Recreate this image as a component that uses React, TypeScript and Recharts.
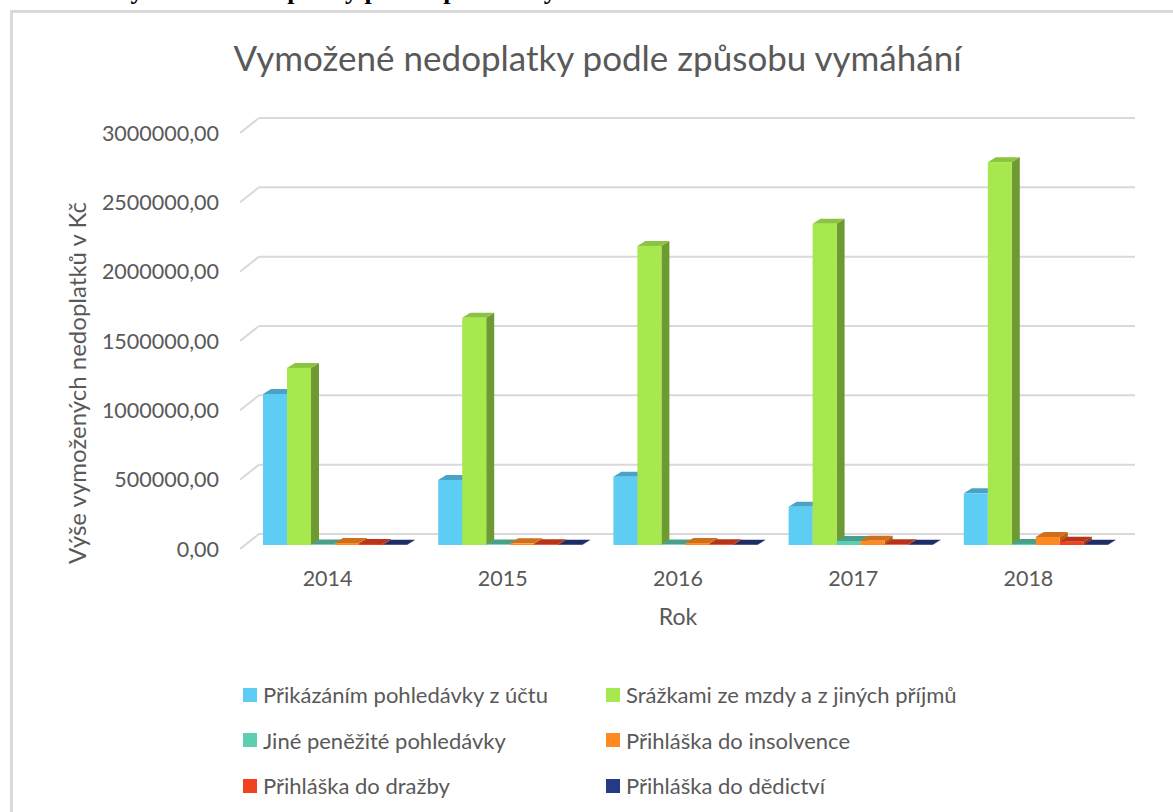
// Vymožené nedoplatky podle způsobu vymáhání — 3D-looking column chart.
//
// Recharts has no 3D bars, so each Bar gets a custom shape that adds a top
// and a side face to the front rectangle. The horizontal grid is pushed back
// onto a "wall" with a short diagonal stub, like the Excel original.

import { Bar, BarChart, CartesianGrid, Legend, XAxis, YAxis } from "recharts";

const years = ["2014", "2015", "2016", "2017", "2018"];

const prikazanim = [1089000, 469000, 493000, 276000, 373000];
const srazkami = [1277000, 1638000, 2157000, 2316000, 2761000];
const jinePohledavky = [4000, 3000, 3000, 29000, 8000];
const insolvence = [14000, 12000, 14000, 30000, 58000];
const drazba = [8000, 6000, 6000, 5000, 24000];
const dedictvi = [1000, 1000, 1000, 1000, 2000];

const yTicks = [0, 500000, 1000000, 1500000, 2000000, 2500000, 3000000];

interface SeriesDef {
  key: string;
  name: string;
  values: number[];
  front: string;
  top: string;
  side: string;
}

const series: SeriesDef[] = [
  { key: "prikazanim", name: "Přikázáním pohledávky z účtu", values: prikazanim, front: "#5ecdf3", top: "#4aa3c6", side: "#3f9bbf" },
  { key: "srazkami", name: "Srážkami ze mzdy a z jiných příjmů", values: srazkami, front: "#a8e84f", top: "#8cc43f", side: "#6e9a32" },
  { key: "jine", name: "Jiné peněžité pohledávky", values: jinePohledavky, front: "#5ccfb0", top: "#48a08a", side: "#3c8a76" },
  { key: "insolvence", name: "Přihláška do insolvence", values: insolvence, front: "#ff8a22", top: "#cf6f1c", side: "#b85f14" },
  { key: "drazba", name: "Přihláška do dražby", values: drazba, front: "#f0421e", top: "#b83418", side: "#a02c14" },
  { key: "dedictvi", name: "Přihláška do dědictví", values: dedictvi, front: "#253a85", top: "#1e2d66", side: "#18255a" },
];

const data = years.map((year, i) => {
  const row: Record<string, string | number> = { year };
  series.forEach((s) => {
    row[s.key] = s.values[i];
  });
  return row;
});

const FONT = "Lato, 'Open Sans', sans-serif";
const TEXT = "#595959";
const GRID = "#d9d9d9";

// depth of a bar and of the back wall
const BAR_DX = 8;
const BAR_DY = 5;
const BAR_SHIFT_X = 6;
const BAR_SHIFT_Y = -4;
const WALL_DX = 19;
const WALL_DY = 15;

function formatCzk(v: number): string {
  return v.toFixed(2).replace(".", ",");
}

function Box3D(props: any) {
  const { x, y, width, height, s } = props;
  if (x == null || y == null) return null;
  const x0 = x + BAR_SHIFT_X;
  const y0 = y + BAR_SHIFT_Y;
  const h = Math.max(height, 0);
  const x1 = x0 + width;
  return (
    <g>
      <polygon
        points={`${x1},${y0} ${x1 + BAR_DX},${y0 - BAR_DY} ${x1 + BAR_DX},${y0 + h - BAR_DY} ${x1},${y0 + h}`}
        fill={s.side}
      />
      <polygon
        points={`${x0},${y0} ${x0 + BAR_DX},${y0 - BAR_DY} ${x1 + BAR_DX},${y0 - BAR_DY} ${x1},${y0}`}
        fill={s.top}
      />
      <rect x={x0} y={y0} width={width} height={h} fill={s.front} />
    </g>
  );
}

function WallLine(props: any) {
  const { x1, x2, y1 } = props;
  return (
    <g key={`wall-${props.index ?? y1}`}>
      <line x1={x1} y1={y1} x2={x1 + WALL_DX} y2={y1 - WALL_DY} stroke={GRID} strokeWidth={2} />
      <line x1={x1 + WALL_DX} y1={y1 - WALL_DY} x2={x2 + WALL_DX} y2={y1 - WALL_DY} stroke={GRID} strokeWidth={2} />
    </g>
  );
}

function LegendBlock() {
  return (
    <div
      style={{
        display: "grid",
        gridTemplateColumns: "363px 400px",
        rowGap: 0,
        fontFamily: FONT,
        fontSize: 22,
        color: TEXT,
      }}
    >
      {series.map((s) => (
        <div key={s.key} style={{ display: "flex", alignItems: "center", height: 45.5, whiteSpace: "nowrap" }}>
          <span style={{ width: 14, height: 14, background: s.front, marginRight: 6, display: "inline-block", flex: "none" }} />
          <span>{s.name}</span>
        </div>
      ))}
    </div>
  );
}

export default function App() {
  return (
    <div
      style={{
        position: "absolute",
        left: 0,
        top: 0,
        width: 1173,
        height: 812,
        overflow: "hidden",
        background: "#ffffff",
      }}
    >
      <div
        style={{
          position: "absolute",
          left: 2,
          top: -22,
          whiteSpace: "nowrap",
          fontFamily: "'Liberation Serif', 'Times New Roman', serif",
          fontWeight: "bold",
          fontSize: 26,
          lineHeight: "26px",
          color: "#000",
        }}
      >
        Graf č. 1: Vymožené nedoplatky podle způsobu vymáhání v letech 2014 – 2018
      </div>
      <div
        style={{
          position: "absolute",
          left: 10,
          top: 10,
          width: 1300,
          height: 900,
          border: `3px solid ${GRID}`,
          boxSizing: "border-box",
        }}
      />
      <div
        style={{
          position: "absolute",
          left: 0,
          top: 36,
          width: 1195,
          textAlign: "center",
          fontFamily: FONT,
          fontSize: 35,
          color: TEXT,
        }}
      >
        Vymožené nedoplatky podle způsobu vymáhání
      </div>
      <div
        style={{
          position: "absolute",
          left: 76,
          top: 383,
          transform: "translate(-50%, -50%) rotate(-90deg)",
          whiteSpace: "nowrap",
          fontFamily: FONT,
          fontSize: 24,
          color: TEXT,
        }}
      >
        Výše vymožených nedoplatků v Kč
      </div>
      <div style={{ position: "absolute", left: 0, top: 0 }}>
        <BarChart
          width={1173}
          height={812}
          data={data}
          margin={{ top: 133, right: 57, left: 110, bottom: 183 }}
          barCategoryGap={17}
          barGap={0}
        >
          <CartesianGrid vertical={false} horizontal={WallLine} />
          <XAxis
            dataKey="year"
            axisLine={false}
            tickLine={false}
            tickSize={0}
            tickMargin={22}
            height={80}
            tick={{ fill: TEXT, fontSize: 21.5, fontFamily: FONT }}
            label={{ value: "Rok", position: "insideBottom", offset: 4, fill: TEXT, fontSize: 23, fontFamily: FONT }}
          />
          <YAxis
            domain={[0, 3000000]}
            ticks={yTicks}
            axisLine={false}
            tickLine={false}
            tickSize={0}
            tickMargin={21}
            width={130}
            tickFormatter={formatCzk}
            tick={{ fill: TEXT, fontSize: 21.5, fontFamily: FONT }}
          />
          <Legend
            layout="horizontal"
            align="center"
            verticalAlign="middle"
            wrapperStyle={{ left: 243, top: 672, width: 780 }}
            content={() => <LegendBlock />}
          />
          {series.map((s) => (
            <Bar
              key={s.key}
              dataKey={s.key}
              name={s.name}
              fill={s.front}
              isAnimationActive={false}
              shape={(p: any) => <Box3D {...p} s={s} />}
            />
          ))}
        </BarChart>
      </div>
    </div>
  );
}
